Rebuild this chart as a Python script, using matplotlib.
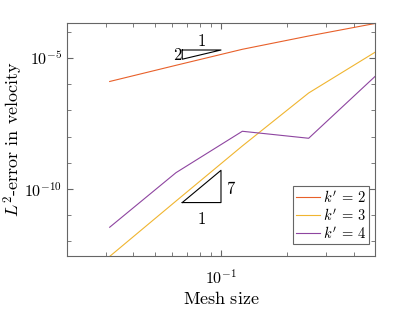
import numpy as np
import matplotlib
matplotlib.use("Agg")
import matplotlib.pyplot as plt
from matplotlib.ticker import FixedLocator, NullFormatter, LogFormatterMathtext

plt.rcParams['font.family'] = 'serif'
plt.rcParams['font.serif'] = ['cmr10']
plt.rcParams['mathtext.fontset'] = 'cm'
plt.rcParams['axes.unicode_minus'] = False
plt.rcParams['axes.formatter.use_mathtext'] = True

# Data
mesh_size = [1/32, 1/16, 1/8, 1/4, 1/2]
err_k2 = [10**-5.897, 10**-5.279, 10**-4.668, 10**-4.160, 10**-3.683]
err_k3 = [10**-12.576, 10**-10.462, 10**-8.359, 10**-6.336, 10**-4.782]
err_k4 = [10**-11.462, 10**-9.378, 10**-7.798, 10**-8.065, 10**-5.706]
labels = [r"$k'\, =\, 2$", r"$k'\, =\, 3$", r"$k'\, =\, 4$"]
colors = ['#E8602A', '#F0B530', '#8E45A0']

# slope triangles: (x_left, x_right, y_anchor, slope)
tri1 = (0.0667, 0.1, 10**-4.695, 2)
tri2 = (0.0667, 0.1, 10**-10.52, 7)

fig = plt.figure(figsize=(4.15, 3.12), dpi=100)
ax = fig.add_axes([0.1614, 0.1795, 0.7422, 0.7468])

for y, lab, c in zip([err_k2, err_k3, err_k4], labels, colors):
    ax.plot(mesh_size, y, color=c, lw=0.8, label=lab)

ax.set_xscale('log')
ax.set_yscale('log')
ax.set_xlim(0.02, 0.5)
ax.set_ylim(10**-12.56, 10**-3.664)

# triangle 1 (slope 2): right angle at top-left
x0, x1, yt, s = tri1
yb = yt / (x1 / x0) ** s
ax.plot([x0, x1, x0, x0], [yt, yt, yb, yt], color='k', lw=0.8)
ax.text(x0 * 0.99, np.sqrt(yt * yb) * 0.97, '2', ha='right', va='center', fontsize=12)
ax.text(np.sqrt(x0 * x1), yt * 1.08, '1', ha='center', va='bottom', fontsize=12)

# triangle 2 (slope 7): right angle at bottom-right
x0, x1, yb, s = tri2
yt = yb * (x1 / x0) ** s
ax.plot([x0, x1, x1, x0], [yb, yb, yt, yb], color='k', lw=0.8)
ax.text(x1 * 1.05, np.sqrt(yt * yb) * 0.8, '7', ha='left', va='center', fontsize=12)
ax.text(np.sqrt(x0 * x1), yb * 0.45, '1', ha='center', va='top', fontsize=12)

ax.xaxis.set_major_locator(FixedLocator([0.1]))
ax.xaxis.set_minor_locator(FixedLocator([0.02, 0.03, 0.04, 0.05, 0.06, 0.07, 0.08, 0.09, 0.2, 0.3, 0.4, 0.5]))
ax.xaxis.set_minor_formatter(NullFormatter())
ax.xaxis.set_major_formatter(LogFormatterMathtext())
ax.yaxis.set_major_locator(FixedLocator([1e-10, 1e-5]))
ax.yaxis.set_minor_locator(FixedLocator([10.0**k for k in range(-12, -3)]))
ax.yaxis.set_minor_formatter(NullFormatter())
ax.yaxis.set_major_formatter(LogFormatterMathtext())

gray = '#666666'
for sp in ax.spines.values():
    sp.set_color(gray)
    sp.set_linewidth(0.8)
ax.tick_params(which='both', direction='in', top=True, right=True, color=gray, labelsize=11.5)
ax.tick_params(axis='x', which='both', pad=9)
ax.tick_params(which='major', length=4)
ax.tick_params(which='minor', length=3)

ax.set_xlabel(r'$\mathrm{Mesh\ size}$', fontsize=13, labelpad=2)
ax.set_ylabel(r'$L^2$-error in velocity', fontsize=13)
ax.yaxis.set_label_coords(-0.135, 0.5)

leg = ax.legend(loc='lower right', bbox_to_anchor=(0.981, 0.0515), borderaxespad=0,
                fancybox=False, framealpha=1, edgecolor=gray, fontsize=10.5,
                handlelength=1.6, handletextpad=0.25, labelspacing=0.15, borderpad=0.2)
leg.get_frame().set_linewidth(0.8)

fig.savefig('out.png', dpi=100)
